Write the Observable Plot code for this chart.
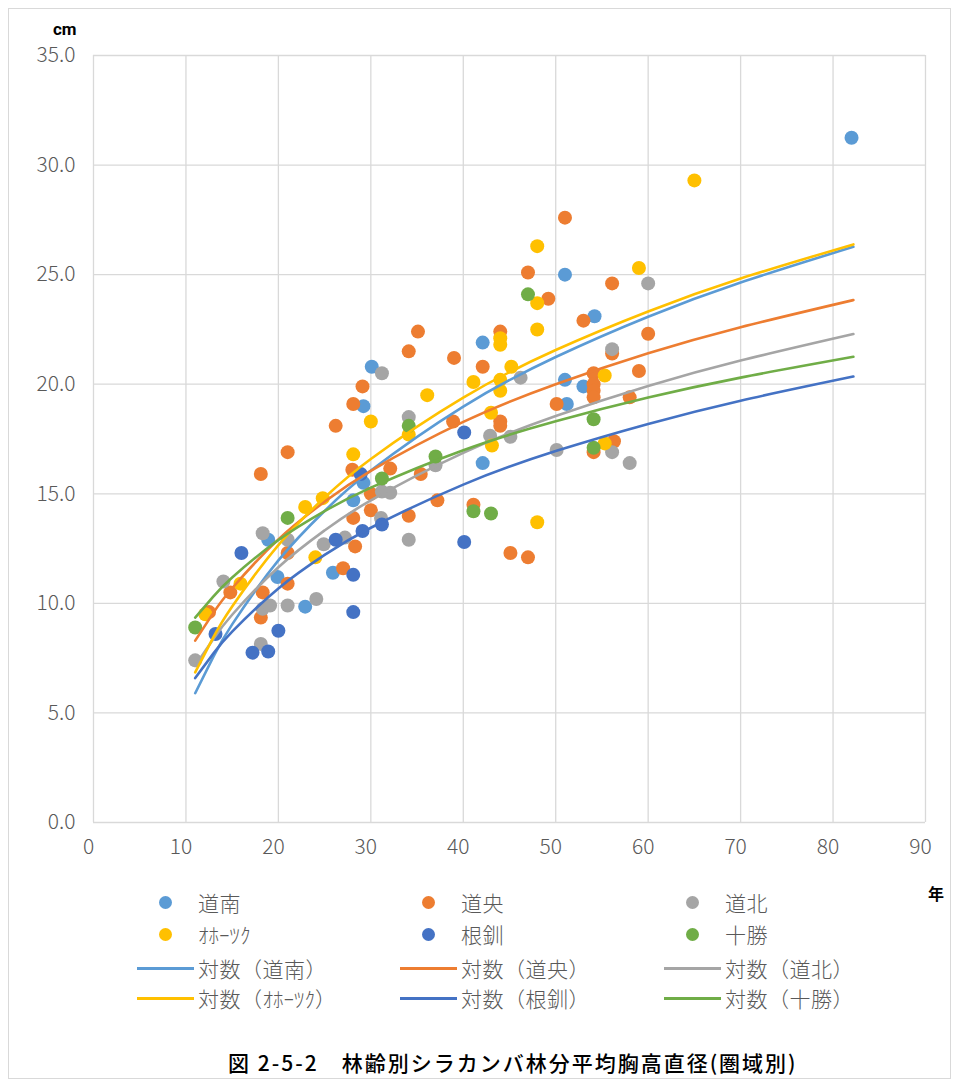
<!DOCTYPE html>
<html><head><meta charset="utf-8">
<script src="https://cdn.jsdelivr.net/npm/d3@7"></script>
<script src="https://cdn.jsdelivr.net/npm/@observablehq/plot@0.6"></script>
<style>
html,body{margin:0;padding:0;background:#fff;}
#wrap{position:relative;width:955px;height:1086px;overflow:hidden;font-family:"Noto Sans CJK JP","Noto Sans",sans-serif;}
#frame{position:absolute;left:8px;top:8px;width:943px;height:1071px;border:1.5px solid #D9D9D9;box-sizing:border-box;pointer-events:none;}
#chart{position:absolute;left:0;top:0;}
.lg{position:absolute;font-size:21px;font-weight:300;letter-spacing:0.5px;color:#595959;white-space:nowrap;line-height:22px;height:22px;}
.txt{position:absolute;white-space:nowrap;}
</style></head>
<body><div id="wrap"><div id="chart"></div><div id="frame"></div></div>
<script>
// ---- data ----
const regions = ["道南","道央","道北","ｵﾎｰﾂｸ","根釧","十勝"];
const colors  = ["#5B9BD5","#ED7D31","#A5A5A5","#FFC000","#4472C4","#70AD47"];
const xTicks = [0,10,20,30,40,50,60,70,80,90];
const yTicks = [0,5,10,15,20,25,30,35];

// [age (years), mean DBH (cm)]
const donan = [[18.9,12.9],[19.9,11.2],[22.9,9.85],[25.9,11.4],[28.1,14.7],[29.2,15.5],[29.2,19.0],[30.1,20.8],[42.1,21.9],[42.1,16.4],[51.0,25.0],[51.0,20.2],[51.2,19.1],[53.0,19.9],[54.2,23.1],[82.0,31.25]];
const dochuo = [[12.5,9.6],[14.8,10.5],[18.1,15.9],[18.3,10.5],[18.1,9.35],[21.0,16.9],[21.0,10.9],[21.0,12.3],[26.2,18.1],[27.0,11.6],[28.0,16.1],[28.1,19.1],[28.1,13.9],[28.3,12.6],[29.1,19.9],[30.0,15.0],[30.0,14.25],[32.1,16.15],[34.1,21.5],[34.1,14.0],[35.1,22.4],[35.4,15.9],[37.2,14.7],[38.9,18.3],[39.0,21.2],[41.1,14.5],[42.1,20.8],[44.0,22.4],[44.0,18.3],[44.0,18.1],[45.1,12.3],[47.0,25.1],[47.0,12.1],[49.2,23.9],[50.1,19.1],[51.0,27.6],[53.0,22.9],[54.1,20.5],[54.1,20.0],[54.1,19.7],[54.1,19.4],[54.1,16.9],[56.1,24.6],[56.1,21.4],[56.3,17.4],[58.0,19.4],[59.0,20.6],[60.0,22.3]];
const dohoku = [[11.0,7.4],[14.05,11.0],[18.3,13.2],[18.1,8.15],[18.3,9.75],[19.1,9.9],[21.0,9.9],[21.0,12.9],[24.1,10.2],[24.9,12.7],[27.2,13.0],[31.2,20.5],[31.2,15.1],[32.1,15.05],[31.1,13.9],[34.1,18.5],[34.1,12.9],[37.0,16.3],[42.9,17.65],[45.1,17.6],[46.2,20.3],[50.1,17.0],[56.1,21.6],[56.1,16.9],[58.0,16.4],[60.0,24.6]];
const okhotsk = [[12.1,9.5],[15.9,10.9],[22.9,14.4],[24.0,12.1],[24.8,14.8],[28.1,16.8],[30.0,18.3],[34.1,17.7],[36.1,19.5],[41.1,20.1],[43.0,18.7],[43.1,17.2],[44.0,22.1],[44.0,21.8],[44.0,20.2],[44.0,19.7],[45.2,20.8],[48.0,26.3],[48.0,23.7],[48.0,22.5],[48.0,13.7],[55.3,20.4],[55.3,17.3],[59.0,25.3],[65.0,29.3]];
const konsen = [[13.2,8.6],[16.0,12.3],[17.2,7.75],[18.9,7.8],[20.0,8.75],[26.2,12.9],[28.1,11.3],[28.1,9.6],[28.9,15.9],[29.1,13.3],[31.2,13.6],[40.1,17.8],[40.1,12.8]];
const tokachi = [[11.0,8.9],[21.0,13.9],[31.2,15.7],[34.1,18.1],[37.0,16.7],[41.1,14.2],[43.0,14.1],[47.0,24.1],[54.1,18.4],[54.1,17.1]];

// logarithmic trend lines, values at these ages
const trendAges = [11,13,15,20,25,30,40,50,60,70,82.2];
const trendDonan   = [5.90,7.59,9.04,11.96,14.22,16.06,18.98,21.24,23.08,24.64,26.27];
const trendDochuo  = [8.30,9.59,10.69,12.92,14.64,16.05,18.28,20.00,21.41,22.60,23.84];
const trendDohoku  = [7.15,8.40,9.48,11.65,13.33,14.70,16.87,18.55,19.92,21.08,22.29];
const trendOkhotsk = [6.85,8.48,9.86,12.66,14.83,16.59,19.39,21.56,23.32,24.82,26.38];
const trendKonsen  = [6.59,7.73,8.71,10.68,12.21,13.45,15.42,16.95,18.19,19.25,20.35];
const trendTokachi = [9.35,10.33,11.18,12.89,14.21,15.28,16.99,18.31,19.39,20.30,21.25];

// ---- build tables ----
const pointSets = [donan, dochuo, dohoku, okhotsk, konsen, tokachi];
const trendSets = [trendDonan, trendDochuo, trendDohoku, trendOkhotsk, trendKonsen, trendTokachi];
const points = pointSets.flatMap((s, i) => s.map(([x, y]) => ({x, y, region: regions[i]})));
const trends = trendSets.flatMap((s, i) => s.map((y, j) => ({x: trendAges[j], y, region: regions[i]})));
const colorOf = Object.fromEntries(regions.map((r, i) => [r, colors[i]]));

const font = `"Noto Sans CJK JP","Noto Sans",sans-serif`;
const chart = Plot.plot({
  width: 955, height: 865,
  marginLeft: 93, marginRight: 30, marginTop: 55, marginBottom: 43,
  style: {fontFamily: font, background: "transparent"},
  x: {domain: [0, 90]},
  y: {domain: [0, 35]},
  marks: [
    Plot.gridX(xTicks, {stroke: "#D9D9D9", strokeOpacity: 1, strokeWidth: 1.3}),
    Plot.gridY(yTicks, {stroke: "#D9D9D9", strokeOpacity: 1, strokeWidth: 1.3}),
    Plot.axisX(xTicks, {tickSize: 0, tickPadding: 17, fontSize: 21, fontWeight: 300, fill: "#595959", dx: -5, label: null}),
    Plot.axisY(yTicks, {tickSize: 0, tickPadding: 18, fontSize: 21, fontWeight: 300, fill: "#595959", label: null,
      tickFormat: d => d.toFixed(1), style: {letterSpacing: "1.5px"}}),
    Plot.dot(points, {x: "x", y: "y", r: 7, fill: d => colorOf[d.region], stroke: "none"}),
    Plot.line(trends, {x: "x", y: "y", z: "region", stroke: d => colorOf[d.region], strokeWidth: 2.6, curve: "natural"})
  ]
});
document.getElementById("chart").appendChild(chart);

// ---- extra texts and legend ----
const wrap = document.getElementById("wrap");
function addText(txt, left, top, css) {
  const d = document.createElement("div");
  d.className = "txt"; d.textContent = txt;
  d.style.left = left + "px"; d.style.top = top + "px";
  Object.assign(d.style, css || {});
  wrap.appendChild(d);
  return d;
}
addText("cm", 53, 21, {fontSize: "17px", fontWeight: "bold", color: "#000", fontFamily: "Roboto, sans-serif", lineHeight: "16px", height: "16px"});
addText("年", 928, 881, {fontSize: "16px", fontWeight: "bold", color: "#000"});

const colX = [165, 428, 692];
const rowY = [902, 934, 968, 998];
regions.forEach((r, i) => {
  const col = i % 3, row = Math.floor(i / 3);
  const cy = rowY[row];
  const m = document.createElement("div");
  Object.assign(m.style, {position: "absolute", left: (colX[col] - 6.5) + "px", top: (cy - 6.5) + "px",
    width: "13px", height: "13px", borderRadius: "50%", background: colors[i]});
  wrap.appendChild(m);
  const t = document.createElement("div");
  t.className = "lg"; t.textContent = r;
  t.style.left = (colX[col] + 33) + "px"; t.style.top = (cy - 11) + "px";
  if (r === "ｵﾎｰﾂｸ") t.style.letterSpacing = "0px";
  wrap.appendChild(t);
  // trend legend
  const ly = rowY[row + 2];
  const ln = document.createElement("div");
  Object.assign(ln.style, {position: "absolute", left: (colX[col] - 28) + "px", top: (ly - 1.5) + "px",
    width: "57px", height: "3px", background: colors[i]});
  wrap.appendChild(ln);
  const t2 = document.createElement("div");
  t2.className = "lg";
  t2.innerHTML = "対数（" + (r === "ｵﾎｰﾂｸ" ? '<span style="letter-spacing:0px">ｵﾎｰﾂｸ</span>' : r) + "）";
  t2.style.left = (colX[col] + 33) + "px"; t2.style.top = (ly - 11) + "px";
  wrap.appendChild(t2);
});
addText("図 2-5-2　林齢別シラカンバ林分平均胸高直径(圏域別)", 228, 1049, {fontSize: "21px", fontWeight: 500, letterSpacing: "2px", color: "#000", lineHeight: "26px"});
</script></body></html>
